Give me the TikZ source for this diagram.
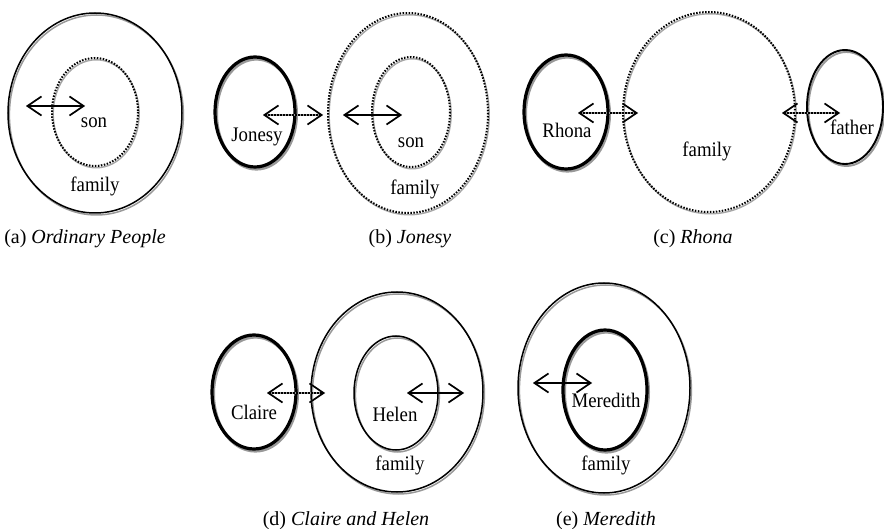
\documentclass[tikz,border=0pt]{standalone}
\usepackage{fontspec}
\setmainfont{Liberation Serif}
\usetikzlibrary{arrows.meta}
\tikzset{
  shadowcol/.style={color=black!40},
  ringnormal/.style={line width=1.5pt},
  ringthick/.style={line width=3.2pt},
  ringmid/.style={line width=1.9pt},
  dotring/.style={line width=2pt, dash pattern=on 1.5pt off 1.5pt},
  lbl/.style={anchor=base, inner sep=0pt, font=\fontsize{18.8}{20}\selectfont},
  captext/.style={anchor=base, inner sep=0pt, font=\fontsize{20}{22}\selectfont},
  dbltip/.style={{Straight Barb[length=14pt,width=19pt,line width=1.6pt]}-{Straight Barb[length=14pt,width=19pt,line width=1.6pt]}},
  arrowline/.style={dbltip, line width=1.5pt},
  shadowarrow/.style={dbltip, line width=1.5pt, color=black!40},
  dotarrow/.style={dbltip, line width=1.8pt, dash pattern=on 1.5pt off 1.5pt},
}
\newcommand\tx[1]{\scalebox{1}[1.1]{#1}}
% ring: center, rx, ry, style
\newcommand\myring[4]{%
  \draw[#4, shadowcol, shift={(1.4,2.0)}] (#1) ellipse ({#2} and {#3});
  \draw[#4] (#1) ellipse ({#2} and {#3});}
\newcommand\mydotring[3]{%
  \draw[line width=1.4pt, color=black!35, shift={(1.2,1.8)}] (#1) ellipse ({#2} and {#3});
  \draw[dotring] (#1) ellipse ({#2} and {#3});}
\newcommand\myarrow[2]{%
  \draw[shadowarrow, shift={(0.6,2.2)}] (#1) -- (#2);
  \draw[arrowline] (#1) -- (#2);}
\newcommand\mydotarrow[2]{%
  \draw[shadowarrow, shift={(0.6,2.2)}] (#1) -- (#2);
  \draw[dotarrow] (#1) -- (#2);}
\begin{document}
\begin{tikzpicture}[x=1pt,y=-1pt]
\useasboundingbox (0,0) rectangle (884,529);
% ---------- (a)
\myring{95,113}{87}{100}{ringnormal}
\mydotring{95,112}{43}{54}
\coordinate (a1) at (26,106);
\coordinate (a2) at (85,106);
\myarrow{a1}{a2}
\node[lbl] (ason) at (94,128) {\tx{son}};
\node[lbl] (afam) at (95,192) {\tx{family}};
\node[captext] (acap) at (85,244) {(a) \textit{Ordinary People}};
% ---------- (b)
\myring{255,112}{40}{55}{ringthick}
\mydotring{408,113}{80}{100}
\mydotring{411,112}{39}{55}
\coordinate (b1) at (263,115);
\coordinate (b2) at (323,115);
\mydotarrow{b1}{b2}
\coordinate (b3) at (343,115);
\coordinate (b4) at (402,115);
\myarrow{b3}{b4}
\node[lbl] (bjon) at (257,142) {\tx{Jonesy}};
\node[lbl] (bson) at (411,148) {\tx{son}};
\node[lbl] (bfam) at (415,195) {\tx{family}};
\node[captext] (bcap) at (410,244) {(b) \textit{Jonesy}};
% ---------- (c)
\myring{566,112}{42}{57}{ringthick}
\mydotring{709,112}{86}{100}
\myring{845,107}{38}{57}{ringmid}
\coordinate (c1) at (578,113);
\coordinate (c2) at (638,113);
\mydotarrow{c1}{c2}
\coordinate (c3) at (782,113);
\coordinate (c4) at (840,113);
\mydotarrow{c3}{c4}
\node[lbl] (crho) at (567,138) {\tx{Rhona}};
\node[lbl] (cfam) at (707,157) {\tx{family}};
\node[lbl] (cfat) at (852,135) {\tx{father}};
\node[captext] (ccap) at (693,244) {(c) \textit{Rhona}};
% ---------- (d)
\myring{254,392}{42}{57}{ringthick}
\myring{397,392}{86}{100}{ringnormal}
\myring{396,393}{42}{57}{ringnormal}
\coordinate (d1) at (267,393);
\coordinate (d2) at (325,393);
\mydotarrow{d1}{d2}
\coordinate (d3) at (407,393);
\coordinate (d4) at (464,393);
\myarrow{d3}{d4}
\node[lbl] (dcla) at (254,419) {\tx{Claire}};
\node[lbl] (dhel) at (395,421) {\tx{Helen}};
\node[lbl] (dfam) at (400,470) {\tx{family}};
\node[captext] (dcap) at (346,525) {(d) \textit{Claire and Helen}};
% ---------- (e)
\myring{604,388}{86}{105}{ringnormal}
\myring{605,390}{42}{60}{ringthick}
\coordinate (e1) at (533,383);
\coordinate (e2) at (592,383);
\myarrow{e1}{e2}
\node[lbl] (emer) at (606,407) {\tx{Meredith}};
\node[lbl] (efam) at (606,470) {\tx{family}};
\node[captext] (ecap) at (606,525) {(e) \textit{Meredith}};
\end{tikzpicture}
\end{document}
